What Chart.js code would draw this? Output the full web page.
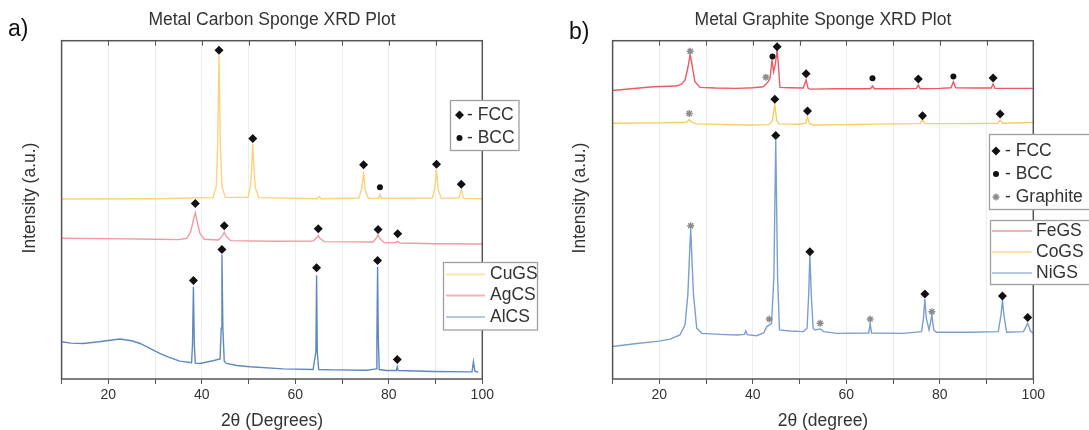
<!DOCTYPE html>
<html>
<head>
<meta charset="utf-8">
<script src="https://cdn.jsdelivr.net/npm/chart.js@4.4.0/dist/chart.umd.min.js"></script>
<style>
  html, body { margin: 0; padding: 0; background: #fff; }
  #wrap { position: relative; width: 1089px; height: 430px; }
  canvas { position: absolute; top: 0; }
  #plotA { left: 0; }
  #plotB { left: 545px; }
</style>
</head>
<body>
<div id="wrap">
  <canvas id="plotA" width="545" height="430"></canvas>
  <canvas id="plotB" width="544" height="430"></canvas>
</div>
<script>
// a) metal carbon sponges, offset patterns (arbitrary units)
const cuTheta  = [10, 30, 42.4, 43.1, 43.4, 43.67, 43.95, 44.3, 45, 49.9, 50.4, 50.65, 50.9, 51.15, 51.45, 52.2, 64.7, 65.1, 65.5, 73.6, 74.25, 74.6, 74.95, 75.6, 77.8, 78.1, 78.4, 89.3, 89.85, 90.2, 90.55, 91.2, 95.0, 95.5, 96.0, 100];
const cuCounts = [53.2, 53.3, 53.6, 57, 70, 95.8, 70, 57, 53.7, 53.7, 57, 62, 69.5, 62, 56.5, 53.6, 53.3, 53.9, 53.3, 53.5, 56.5, 61.3, 56, 53.4, 53.4, 54.6, 53.4, 53.5, 56.5, 61.8, 56, 53.4, 53.5, 55.9, 53.4, 53.3];

const agTheta  = [10, 20, 30, 35, 36.8, 37.6, 38.2, 38.6, 39.0, 39.6, 40.5, 43.5, 44.4, 44.8, 45.2, 46.2, 55, 63.8, 64.5, 64.9, 65.3, 66.2, 76.6, 77.3, 77.7, 78.1, 79, 81.4, 81.9, 82.4, 90, 100];
const agCounts = [41.6, 41.5, 41.3, 41.2, 41.6, 43.5, 47, 49.1, 46.5, 43, 41.3, 41.1, 42.3, 43.4, 42.2, 40.9, 40.7, 40.8, 41.7, 42.4, 41.5, 40.6, 40.5, 41.6, 42.6, 41.5, 40.3, 40.3, 40.7, 40.2, 40, 39.9];

const alTheta  = [10, 12, 14.6, 18, 20, 22.5, 25, 26.8, 29, 31, 33, 35.3, 37.8, 38.0, 38.2, 38.4, 38.6, 39.6, 42.4, 43.9, 44.15, 44.3, 44.5, 44.8, 45.3, 47.5, 50.3, 57.4, 63.8, 64.4, 64.55, 64.7, 65.0, 68.1, 75.3, 77.3, 77.45, 77.6, 77.75, 77.95, 79.5, 81.6, 81.8, 82.0, 89.5, 97.8, 98.1, 98.4, 99.1];
const alCounts = [11.0, 10.6, 10.5, 11.0, 11.4, 11.8, 11.3, 10.5, 9.0, 7.6, 6.4, 5.3, 4.8, 10, 27.3, 10, 4.7, 4.6, 5.4, 5.9, 15, 36.7, 15, 5.2, 4.6, 4.0, 3.6, 3.0, 2.8, 8, 30.7, 8, 2.8, 2.7, 2.6, 3.0, 12, 33.2, 12, 2.8, 2.5, 2.5, 3.6, 2.5, 2.2, 2.1, 5.1, 2.3, 2.0];

const aFccTheta  = [43.67, 50.9, 74.6, 90.2, 95.5, 38.6, 44.8, 64.9, 77.7, 81.9, 38.2, 44.3, 64.55, 77.6, 81.8];
const aFccCounts = [97.2, 71.1, 63.3, 63.5, 57.6, 51.9, 45.3, 44.4, 44.2, 42.9, 29.1, 38.3, 32.9, 35.0, 5.8];
const aBccTheta  = [78.1];
const aBccCounts = [56.7];

// b) metal graphite sponges
const feTheta  = [10, 14, 18.7, 23.7, 24.8, 25.5, 26.1, 26.6, 27.1, 27.6, 28.7, 32, 36.5, 40, 42.2, 42.9, 43.3, 43.7, 44.1, 44.45, 44.8, 45.2, 45.5, 45.8, 48, 50.8, 51.4, 51.8, 52.2, 58, 65.2, 65.6, 66.0, 70, 75.0, 75.4, 75.8, 80, 82.4, 82.9, 83.4, 88, 91.0, 91.4, 91.8, 96, 100];
const feCounts = [85.3, 85.8, 86.4, 86.6, 87.2, 88.4, 92, 96.0, 92, 87.9, 86.2, 86.0, 85.9, 86.1, 86.4, 87.3, 87.9, 89, 94.3, 90.8, 93, 97.4, 92, 86.2, 86.1, 86.0, 88.4, 86.0, 85.7, 85.8, 85.8, 86.6, 85.8, 85.8, 85.9, 86.9, 85.8, 85.9, 86.1, 87.9, 86.1, 86.0, 86.0, 87.2, 85.9, 85.9, 85.9];

const coTheta  = [10, 20, 25, 25.9, 26.4, 26.9, 28, 35, 39.4, 43.5, 44.2, 44.7, 45.1, 45.6, 50, 51.3, 51.7, 52.1, 53, 60, 70, 75.8, 76.3, 76.8, 85, 92.4, 92.9, 93.4, 100];
const coCounts = [75.6, 75.7, 75.8, 76.0, 76.7, 75.9, 75.4, 75.2, 75.1, 75.2, 76.5, 81.0, 76.5, 75.4, 75.3, 75.6, 77.5, 75.5, 75.1, 75.2, 75.4, 75.5, 76.6, 75.5, 75.5, 75.6, 76.6, 75.6, 75.8];

const niTheta  = [10, 15.2, 20, 22.3, 24.4, 25.5, 26.1, 26.7, 27.3, 28.0, 29.1, 33, 36.5, 38.2, 38.5, 38.8, 40.8, 42.3, 43.0, 44.0, 44.5, 44.9, 45.3, 45.7, 48, 50.8, 51.6, 51.95, 52.2, 52.5, 52.9, 53.3, 54.4, 55.2, 57.9, 64.8, 65.1, 65.4, 72.2, 76.1, 76.5, 76.8, 77.1, 77.7, 78.3, 78.7, 79.3, 86.5, 92.5, 93.1, 93.4, 93.7, 94.3, 97.9, 98.8, 99.4, 100];
const niCounts = [9.6, 10.5, 11.2, 11.8, 13.0, 16.0, 25, 44.5, 25, 15.0, 13.5, 13.2, 13.0, 13.2, 14.2, 13.1, 12.8, 13.6, 15.5, 16.4, 30, 70.6, 30, 14.5, 14.2, 14.0, 15.0, 25, 36.9, 25, 15, 14.5, 14.8, 14.0, 13.5, 13.6, 16.5, 13.6, 13.5, 14.0, 18, 23.6, 18, 14.5, 18.9, 14.5, 13.8, 13.8, 14.0, 19, 23.3, 19, 13.8, 14.0, 16.5, 14.2, 13.5];

const bFccTheta  = [45.2, 51.4, 75.4, 91.4, 44.7, 51.7, 76.3, 92.9, 44.9, 52.2, 76.8, 93.4, 98.8];
const bFccCounts = [98.2, 90.2, 88.7, 89.0, 82.7, 79.2, 77.8, 78.3, 72.0, 37.6, 25.1, 24.5, 18.2];
const bBccTheta  = [44.2, 65.6, 82.9];
const bBccCounts = [95.3, 88.9, 89.4];
const bGraTheta  = [26.6, 42.8, 26.4, 26.7, 43.5, 54.4, 65.1, 78.3];
const bGraCounts = [96.9, 89.2, 78.5, 45.3, 17.7, 16.5, 17.7, 19.9];

const FONT = "'Liberation Sans', Arial, sans-serif";
const pts = (xs, ys) => xs.map((x, i) => ({ x, y: ys[i] }));

const MARK = {
  fcc: { pointStyle: 'rectRot', radius: 4.5, color: '#111', borderWidth: 0 },
  bcc: { pointStyle: 'circle', radius: 3, color: '#111', borderWidth: 0 },
  gra: { pointStyle: 'star', radius: 3.5, color: '#8c8c8c', borderWidth: 1.4 }
};

function trace(label, xs, ys, color) {
  return { label, data: pts(xs, ys), borderColor: color, borderWidth: 1.4, pointRadius: 0, tension: 0, order: 2 };
}
function marks(label, xs, ys, m) {
  return {
    label, data: pts(xs, ys), showLine: false, order: 1,
    pointStyle: m.pointStyle, pointRadius: m.radius,
    backgroundColor: m.color, borderColor: m.color, borderWidth: m.borderWidth
  };
}

function drawBox(ctx, b) {
  ctx.fillStyle = '#fff';
  ctx.fillRect(b.x, b.y, b.w, b.h);
  ctx.strokeStyle = '#a0a0a0';
  ctx.lineWidth = 1.3;
  ctx.strokeRect(b.x, b.y, b.w, b.h);
}

// frame, top ticks, titles and the two legend boxes
const decor = {
  id: 'decor',
  afterDraw(chart, args, o) {
    const { ctx, chartArea: a, scales: { x } } = chart;
    ctx.save();
    ctx.strokeStyle = '#555';
    ctx.lineWidth = 1.5;
    ctx.strokeRect(a.left, a.top, a.right - a.left, a.bottom - a.top);
    ctx.lineWidth = 1;
    for (let v = 20; v < 100; v += 10) {
      const px = Math.round(x.getPixelForValue(v)) + 0.5;
      ctx.beginPath();
      ctx.moveTo(px, a.top);
      ctx.lineTo(px, a.top + 5);
      ctx.stroke();
    }

    ctx.textBaseline = 'middle';
    ctx.textAlign = 'center';
    ctx.fillStyle = '#333';
    ctx.font = `17.5px ${FONT}`;
    ctx.fillText(o.title, (a.left + a.right) / 2, 20);

    ctx.textAlign = 'left';
    ctx.fillStyle = '#111';
    ctx.font = `23px ${FONT}`;
    ctx.fillText(o.tag, o.tagX, o.tagY);

    ctx.save();
    ctx.translate(o.yTitleX, 198);
    ctx.rotate(-Math.PI / 2);
    ctx.textAlign = 'center';
    ctx.fillStyle = '#333';
    ctx.font = `17.5px ${FONT}`;
    ctx.fillText('Intensity (a.u.)', 0, 0);
    ctx.restore();

    // phase key
    const k = o.phaseBox;
    drawBox(ctx, k);
    k.rows.forEach((r, i) => {
      const m = MARK[r.mark];
      ctx.fillStyle = m.color;
      ctx.strokeStyle = m.color;
      ctx.lineWidth = m.borderWidth || 1;
      Chart.helpers.drawPoint(ctx, { pointStyle: m.pointStyle, radius: m.radius, rotation: 0, borderWidth: m.borderWidth }, k.markX, k.rowY[i]);
      ctx.fillStyle = '#333';
      ctx.font = `17.5px ${FONT}`;
      ctx.fillText(r.text, k.textX, k.rowY[i]);
    });

    // sample key
    const s = o.seriesBox;
    drawBox(ctx, s);
    s.rows.forEach((r, i) => {
      ctx.strokeStyle = r.color;
      ctx.lineWidth = 2;
      ctx.beginPath();
      ctx.moveTo(s.lineX0, s.rowY[i]);
      ctx.lineTo(s.lineX1, s.rowY[i]);
      ctx.stroke();
      ctx.fillStyle = '#333';
      ctx.font = `17.5px ${FONT}`;
      ctx.fillText(r.text, s.textX, s.rowY[i]);
    });
    ctx.restore();
  }
};

function xrdOptions(xTitle, yWidth, padRight, decorOpts) {
  return {
    responsive: false,
    animation: false,
    devicePixelRatio: 1,
    layout: { padding: { left: 0, right: padRight, top: 40.7, bottom: 0 } },
    plugins: { legend: { display: false }, tooltip: { enabled: false }, decor: decorOpts },
    scales: {
      x: {
        type: 'linear', min: 10, max: 100,
        ticks: {
          stepSize: 10, autoSkip: false, maxRotation: 0, padding: 3,
          color: '#333', font: { family: FONT, size: 14 },
          callback: v => (v % 20 === 0 ? v : '')
        },
        grid: { color: 'rgba(0,0,0,0.07)', tickColor: '#555', tickLength: 5, lineWidth: 1 },
        border: { display: false },
        title: { display: true, text: xTitle, color: '#333', padding: 0, font: { family: FONT, size: 17.5, lineHeight: 1 } },
        afterFit: s => { s.height = 51; }
      },
      y: {
        min: 0, max: 100,
        ticks: { display: false },
        grid: { display: false },
        border: { display: false },
        afterFit: s => { s.width = yWidth; }
      }
    }
  };
}

new Chart(document.getElementById('plotA'), {
  type: 'line',
  plugins: [decor],
  data: {
    datasets: [
      marks('FCC', aFccTheta, aFccCounts, MARK.fcc),
      marks('BCC', aBccTheta, aBccCounts, MARK.bcc),
      trace('CuGS', cuTheta, cuCounts, '#fcd27c'),
      trace('AgCS', agTheta, agCounts, '#f39aa0'),
      trace('AlCS', alTheta, alCounts, '#5f88c0')
    ]
  },
  options: xrdOptions('2θ (Degrees)', 61.6, 62.7, {
    title: 'Metal Carbon Sponge XRD Plot', tag: 'a)', tagX: 8, tagY: 30, yTitleX: 30,
    phaseBox: {
      x: 450.5, y: 100.5, w: 68.5, h: 50, markX: 459.5, textX: 467, rowY: [115, 138],
      rows: [{ mark: 'fcc', text: '- FCC' }, { mark: 'bcc', text: '- BCC' }]
    },
    seriesBox: {
      x: 443.5, y: 262.5, w: 94, h: 67.5, lineX0: 446, lineX1: 485, textX: 490, rowY: [274.5, 295.5, 317],
      rows: [{ color: '#fde3aa', text: 'CuGS' }, { color: '#f6b3b7', text: 'AgCS' }, { color: '#b3c9e4', text: 'AlCS' }]
    }
  })
});

new Chart(document.getElementById('plotB'), {
  type: 'line',
  plugins: [decor],
  data: {
    datasets: [
      marks('FCC', bFccTheta, bFccCounts, MARK.fcc),
      marks('BCC', bBccTheta, bBccCounts, MARK.bcc),
      marks('Graphite', bGraTheta, bGraCounts, MARK.gra),
      trace('FeGS', feTheta, feCounts, '#ec5a62'),
      trace('CoGS', coTheta, coCounts, '#f9cd63'),
      trace('NiGS', niTheta, niCounts, '#7a9fd0')
    ]
  },
  options: xrdOptions('2θ (degree)', 67.6, 55.7, {
    title: 'Metal Graphite Sponge XRD Plot', tag: 'b)', tagX: 24, tagY: 33, yTitleX: 35,
    phaseBox: {
      x: 444.5, y: 134.5, w: 110, h: 75, markX: 451, textX: 460, rowY: [151, 174, 197],
      rows: [{ mark: 'fcc', text: '- FCC' }, { mark: 'bcc', text: '- BCC' }, { mark: 'gra', text: '- Graphite' }]
    },
    seriesBox: {
      x: 445.5, y: 220.5, w: 110, h: 64, lineX0: 447, lineX1: 487, textX: 491, rowY: [231, 252, 273],
      rows: [{ color: '#f6b3b7', text: 'FeGS' }, { color: '#fde3aa', text: 'CoGS' }, { color: '#b3c9e4', text: 'NiGS' }]
    }
  })
});
</script>
</body>
</html>
